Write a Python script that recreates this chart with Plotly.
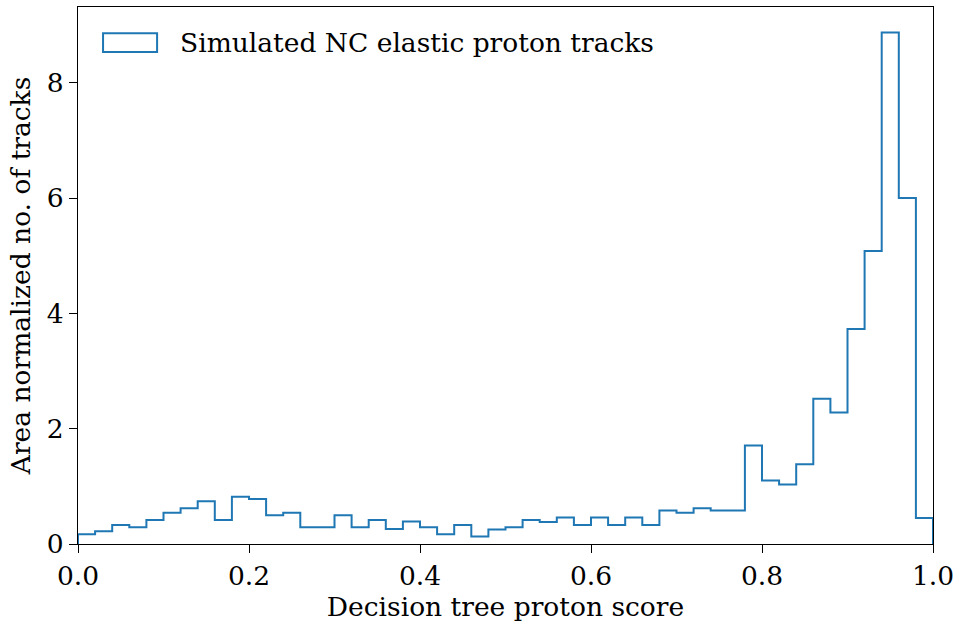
import numpy as np
import plotly.graph_objects as go

# Area-normalised histogram of decision-tree proton scores (50 bins on [0, 1])
bin_edges = np.linspace(0.0, 1.0, 51)
densities = [
    0.17, 0.22, 0.33, 0.29, 0.415, 0.54, 0.62, 0.74, 0.415, 0.82,
    0.78, 0.50, 0.54, 0.29, 0.29, 0.50, 0.29, 0.415, 0.26, 0.39,
    0.29, 0.17, 0.33, 0.13, 0.25, 0.29, 0.415, 0.38, 0.46, 0.33,
    0.46, 0.33, 0.46, 0.33, 0.58, 0.54, 0.62, 0.58, 0.58, 1.71,
    1.10, 1.03, 1.385, 2.52, 2.28, 3.73, 5.08, 8.87, 6.00, 0.45,
]
series_name = "Simulated NC elastic proton tracks"
x_ticks = [0.0, 0.2, 0.4, 0.6, 0.8, 1.0]
y_ticks = [0, 2, 4, 6, 8]

COLOR = "#1f77b4"
FONT = "DejaVu Serif"
FS = 26.5

# step outline: rise from zero at the first edge, fall back to zero at the last
h = np.asarray(densities)
step_x = np.repeat(bin_edges, 2)
step_y = np.concatenate([[0.0], np.repeat(h, 2), [0.0]])

fig = go.Figure()
fig.add_trace(go.Scatter(
    x=step_x, y=step_y, mode="lines",
    line=dict(color=COLOR, width=2),
    name=series_name, showlegend=False, hoverinfo="skip",
))

axis_common = dict(
    showgrid=False, zeroline=False, automargin=False,
    showline=True, linecolor="black", linewidth=1.3, mirror=True,
    ticks="outside", ticklen=8, tickwidth=1.3, tickcolor="black",
    tickfont=dict(family=FONT, size=FS, color="black"),
)

fig.update_xaxes(
    range=[0, 1], tickvals=x_ticks, ticktext=[f"{v:.1f}" for v in x_ticks],
    title=dict(text="Decision tree proton score", font=dict(family=FONT, size=FS, color="black"), standoff=4),
    **axis_common,
)
fig.update_yaxes(
    range=[0, h.max() * 1.05], tickvals=y_ticks, ticktext=[str(v) for v in y_ticks],
    title=dict(text="Area normalized no. of tracks", font=dict(family=FONT, size=FS, color="black"), standoff=8),
    **axis_common,
)

# legend: outlined patch plus label
fig.add_shape(type="rect", xref="paper", yref="paper",
              x0=0.0293, x1=0.0925, y0=0.916, y1=0.951,
              line=dict(color=COLOR, width=2), fillcolor="rgba(0,0,0,0)")
fig.add_annotation(xref="paper", yref="paper", x=0.117, y=0.934,
                   xanchor="left", yanchor="middle", showarrow=False,
                   text=series_name, font=dict(family=FONT, size=FS, color="black"))

fig.update_layout(
    width=957, height=622,
    margin=dict(l=78, r=24, t=7, b=78),
    plot_bgcolor="white", paper_bgcolor="white",
    font=dict(family=FONT, color="black"),
)

fig.write_html("out.html")
